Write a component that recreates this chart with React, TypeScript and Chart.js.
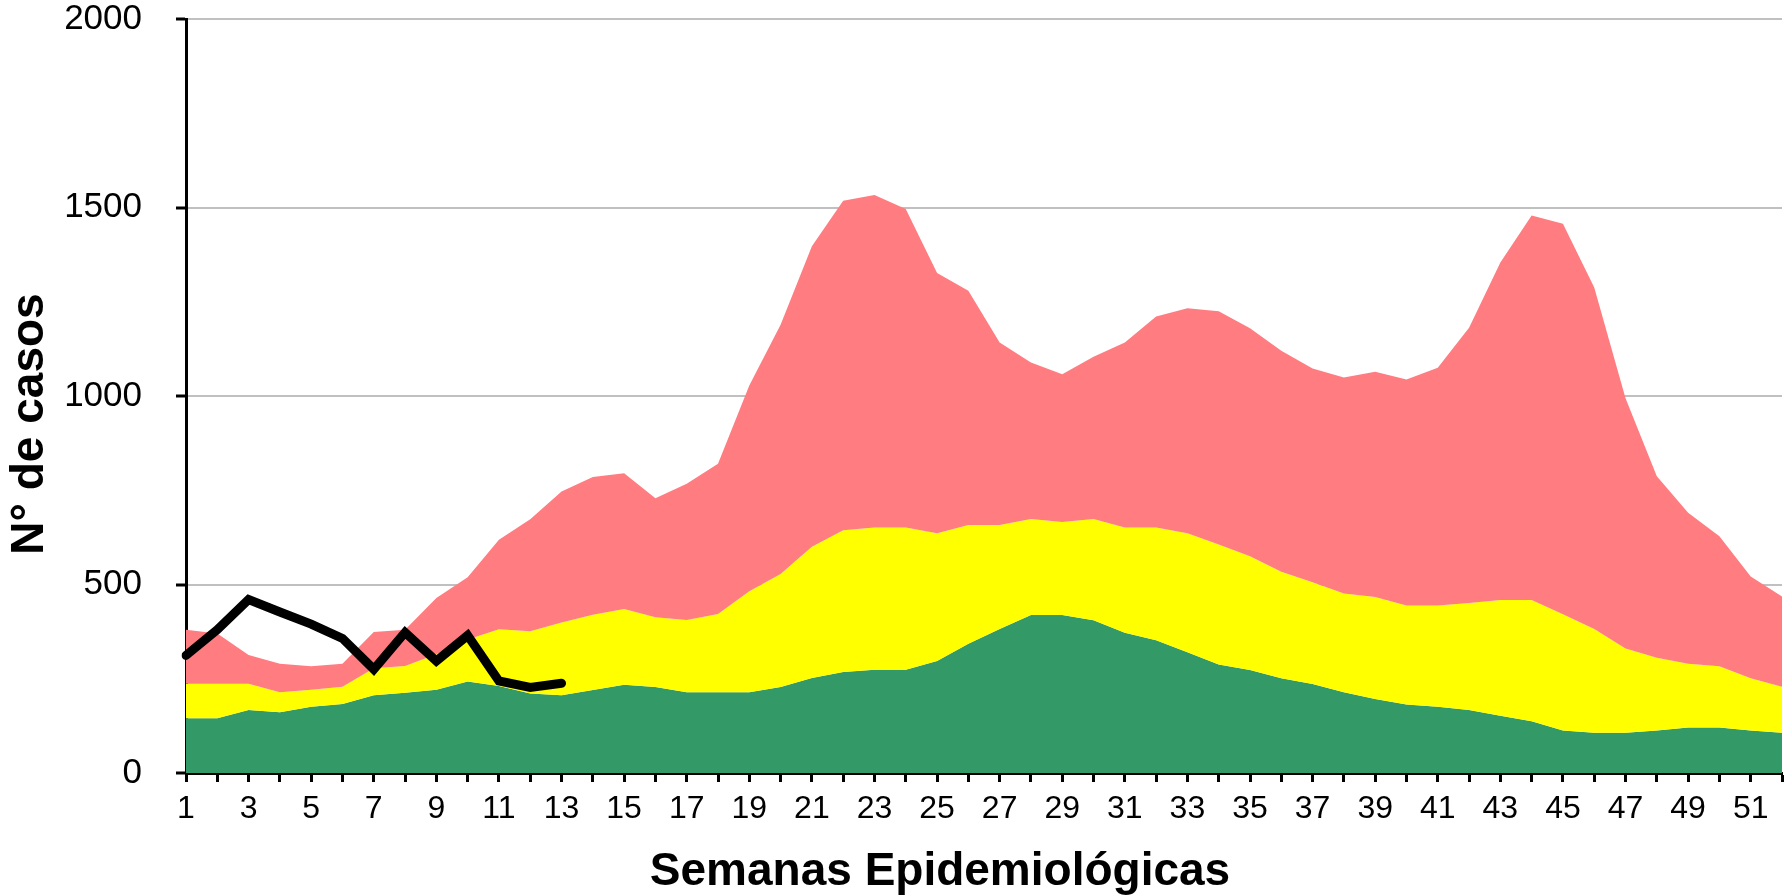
import React, { useEffect, useRef } from "react";
import { Chart, registerables } from "chart.js";

Chart.register(...registerables);

const weeks = [
  "1", "2", "3", "4", "5", "6", "7", "8", "9", "10", "11", "12", "13",
  "14", "15", "16", "17", "18", "19", "20", "21", "22", "23", "24", "25", "26",
  "27", "28", "29", "30", "31", "32", "33", "34", "35", "36", "37", "38", "39",
  "40", "41", "42", "43", "44", "45", "46", "47", "48", "49", "50", "51", "52",
];

// Endemic channel limits (cumulative upper edges of each zone)
const exitoZone = [
  145, 145, 167, 161, 176, 183, 206, 213, 221, 243, 231, 211, 206,
  220, 234, 228, 214, 214, 214, 228, 252, 268, 274, 274, 297, 343,
  382, 419, 419, 405, 372, 352, 320, 288, 273, 251, 236, 214, 196,
  182, 176, 167, 152, 137, 113, 107, 107, 113, 121, 121, 113, 107,
];
const seguridadZone = [
  237, 237, 237, 214, 221, 229, 278, 284, 315, 354, 381, 376, 399,
  420, 435, 413, 406, 422, 482, 528, 600, 644, 651, 651, 636, 658,
  658, 674, 666, 674, 651, 651, 636, 606, 575, 534, 506, 476, 467,
  444, 444, 451, 459, 459, 421, 382, 330, 306, 290, 283, 251, 229,
];
const alertaZone = [
  380, 370, 313, 290, 283, 290, 374, 380, 464, 519, 619, 673, 747,
  785, 795, 729, 767, 820, 1028, 1189, 1397, 1518, 1533, 1496, 1326, 1279,
  1142, 1089, 1058, 1104, 1142, 1211, 1233, 1225, 1180, 1120, 1073, 1049, 1064,
  1044, 1075, 1181, 1354, 1479, 1457, 1288, 994, 787, 690, 628, 521, 468,
];
const casosActuales = [312, 380, 460, 427, 395, 357, 275, 373, 297, 365, 244, 227, 238];

const yTicks = [0, 500, 1000, 1500, 2000];
const yTitle = "N° de casos";
const xTitle = "Semanas Epidemiológicas";

const FONT = "'Liberation Sans', Arial, Helvetica, sans-serif";

export default function App() {
  const ref = useRef<HTMLCanvasElement | null>(null);

  useEffect(() => {
    const canvas = ref.current;
    if (!canvas) return;

    const titlePlugin = {
      id: "axisTitles",
      afterDraw(chart: any) {
        const ctx = chart.ctx as CanvasRenderingContext2D;
        ctx.save();
        ctx.fillStyle = "#000";
        ctx.font = `bold 46px ${FONT}`;
        ctx.textAlign = "center";
        ctx.textBaseline = "alphabetic";
        ctx.fillText(xTitle, 940, 885);
        ctx.translate(43, 424);
        ctx.rotate(-Math.PI / 2);
        ctx.fillText(yTitle, 0, 0);
        ctx.restore();
      },
    };

    const lineData = weeks.map((_, i) => (i < casosActuales.length ? casosActuales[i] : null));

    const chart = new Chart(canvas, {
      type: "line",
      data: {
        labels: weeks,
        datasets: [
          {
            label: "Casos",
            data: lineData,
            borderColor: "#000000",
            borderWidth: 9,
            pointRadius: 0,
            fill: false,
            tension: 0,
            borderCapStyle: "round",
            borderJoinStyle: "miter",
            spanGaps: false,
          },
          {
            label: "Alerta",
            data: alertaZone,
            borderWidth: 0,
            borderColor: "rgba(0,0,0,0)",
            backgroundColor: "#FF7C80",
            pointRadius: 0,
            fill: "+1",
            tension: 0,
          },
          {
            label: "Seguridad",
            data: seguridadZone,
            borderWidth: 0,
            borderColor: "rgba(0,0,0,0)",
            backgroundColor: "#FFFF00",
            pointRadius: 0,
            fill: "+1",
            tension: 0,
          },
          {
            label: "Éxito",
            data: exitoZone,
            borderWidth: 0,
            borderColor: "rgba(0,0,0,0)",
            backgroundColor: "#339966",
            pointRadius: 0,
            fill: "origin",
            tension: 0,
          },
        ],
      },
      options: {
        responsive: false,
        animation: false,
        devicePixelRatio: 1,
        layout: { padding: { left: 0, right: 6, top: 19, bottom: 0 } },
        plugins: {
          legend: { display: false },
          tooltip: { enabled: false },
          title: { display: false },
        },
        scales: {
          x: {
            type: "category",
            offset: false,
            border: { display: true, color: "#000", width: 3 },
            grid: {
              display: true,
              drawOnChartArea: false,
              drawTicks: true,
              tickLength: 9,
              tickColor: "#000",
              tickWidth: 3,
            },
            ticks: {
              autoSkip: false,
              maxRotation: 0,
              minRotation: 0,
              padding: 8,
              color: "#000",
              font: { family: FONT, size: 32 },
              callback: (_v: any, i: number) => (i % 2 === 0 ? weeks[i] : ""),
            },
            afterFit: (scale: any) => {
              scale.height = 896 - 773;
              scale.paddingLeft = 0;
              scale.paddingRight = 0;
            },
          },
          y: {
            min: 0,
            max: 2000,
            afterBuildTicks: (scale: any) => {
              scale.ticks = yTicks.map((v) => ({ value: v }));
            },
            border: { display: true, color: "#000", width: 3 },
            grid: {
              color: "#C0C0C0",
              lineWidth: 2,
              drawTicks: true,
              tickLength: 10,
              tickColor: "#000",
              tickWidth: 3,
            },
            ticks: {
              padding: 34,
              color: "#000",
              font: { family: FONT, size: 35 },
              callback: (v: any) => String(v),
            },
            afterFit: (scale: any) => {
              scale.width = 186;
              scale.paddingTop = 0;
              scale.paddingBottom = 0;
            },
          },
        },
      },
      plugins: [titlePlugin],
    });

    return () => chart.destroy();
  }, []);

  return (
    <div style={{ position: "absolute", left: 0, top: 0, width: 1788, height: 896, background: "#fff" }}>
      <canvas ref={ref} width={1788} height={896} style={{ display: "block" }} />
    </div>
  );
}
